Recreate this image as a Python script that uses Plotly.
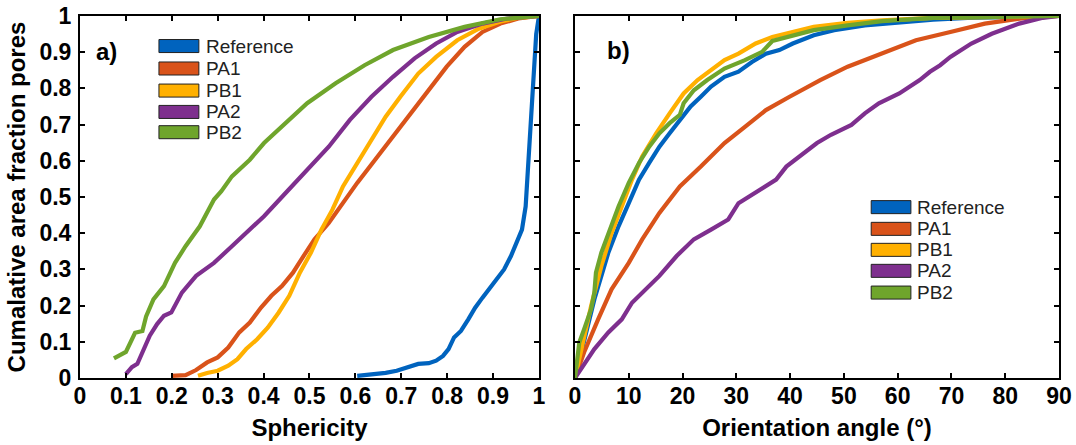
import plotly.graph_objects as go

series_names = ["Reference", "PA1", "PB1", "PA2", "PB2"]
series_colors = ["#0063BE", "#D9531A", "#FFB000", "#7E2F8E", "#6FA52C"]

# Panel a) Sphericity vs cumulative area fraction
a_ref_x = [0.604, 0.635, 0.666, 0.69, 0.713, 0.737, 0.76, 0.776, 0.791, 0.803, 0.815, 0.83, 0.846, 0.861, 0.877, 0.893, 0.908, 0.924, 0.939, 0.951, 0.963, 0.971, 0.978, 0.986, 0.994, 1.0]
a_ref_y = [0.006, 0.009, 0.014, 0.02, 0.029, 0.039, 0.041, 0.048, 0.061, 0.08, 0.112, 0.13, 0.162, 0.194, 0.222, 0.25, 0.272, 0.3, 0.337, 0.373, 0.41, 0.474, 0.63, 0.814, 0.95, 1.0]
a_pa1_x = [0.199, 0.23, 0.253, 0.277, 0.3, 0.323, 0.347, 0.37, 0.394, 0.417, 0.44, 0.464, 0.487, 0.511, 0.542, 0.573, 0.604, 0.643, 0.682, 0.721, 0.76, 0.799, 0.838, 0.877, 0.916, 0.955, 1.0]
a_pa1_y = [0.006, 0.008, 0.022, 0.043, 0.057, 0.084, 0.126, 0.153, 0.194, 0.227, 0.254, 0.291, 0.337, 0.383, 0.428, 0.483, 0.539, 0.603, 0.667, 0.731, 0.795, 0.86, 0.915, 0.956, 0.979, 0.993, 1.0]
a_pb1_x = [0.257, 0.277, 0.3, 0.323, 0.343, 0.362, 0.386, 0.409, 0.433, 0.456, 0.479, 0.503, 0.526, 0.55, 0.573, 0.604, 0.635, 0.666, 0.698, 0.737, 0.776, 0.822, 0.869, 0.916, 0.955, 1.0]
a_pb1_y = [0.006, 0.014, 0.02, 0.034, 0.052, 0.08, 0.107, 0.139, 0.181, 0.227, 0.291, 0.346, 0.41, 0.465, 0.529, 0.594, 0.658, 0.722, 0.777, 0.841, 0.887, 0.933, 0.965, 0.985, 0.995, 1.0]
a_pa2_x = [0.1, 0.113, 0.125, 0.136, 0.152, 0.168, 0.183, 0.199, 0.222, 0.253, 0.292, 0.331, 0.37, 0.401, 0.448, 0.495, 0.542, 0.588, 0.635, 0.682, 0.729, 0.776, 0.822, 0.877, 0.931, 1.0]
a_pa2_y = [0.011, 0.03, 0.039, 0.07, 0.117, 0.149, 0.172, 0.181, 0.236, 0.282, 0.318, 0.364, 0.41, 0.447, 0.511, 0.575, 0.639, 0.713, 0.777, 0.832, 0.883, 0.924, 0.956, 0.979, 0.993, 1.0]
a_pb2_x = [0.074, 0.1, 0.12, 0.136, 0.144, 0.16, 0.183, 0.207, 0.23, 0.261, 0.292, 0.308, 0.331, 0.37, 0.401, 0.448, 0.495, 0.557, 0.62, 0.682, 0.76, 0.838, 0.916, 1.0]
a_pb2_y = [0.054, 0.072, 0.125, 0.13, 0.17, 0.217, 0.254, 0.318, 0.364, 0.419, 0.493, 0.516, 0.557, 0.603, 0.649, 0.704, 0.759, 0.814, 0.864, 0.906, 0.942, 0.97, 0.991, 1.0]

# Panel b) Orientation angle vs cumulative area fraction
b_ref_x = [0, 1.7, 3.6, 6.2, 8.1, 10, 11.9, 13.8, 15.7, 17.6, 19.5, 21.5, 23.4, 25.3, 27.8, 30.4, 32.9, 35.5, 38, 40.5, 44.4, 48.2, 53.9, 60.3, 66.6, 73, 82.6, 90]
b_ref_y = [0, 0.098, 0.217, 0.346, 0.419, 0.483, 0.548, 0.594, 0.639, 0.676, 0.713, 0.75, 0.777, 0.805, 0.832, 0.846, 0.873, 0.896, 0.906, 0.924, 0.947, 0.961, 0.974, 0.983, 0.99, 0.995, 0.999, 1.0]
b_pa1_x = [0, 1.7, 4.3, 6.8, 10, 12.5, 15.7, 19.5, 23.4, 27.8, 31.6, 35.5, 39.9, 45.6, 50.7, 57.1, 63.4, 69.8, 76.2, 83.8, 90]
b_pa1_y = [0, 0.071, 0.162, 0.245, 0.318, 0.383, 0.456, 0.529, 0.584, 0.649, 0.694, 0.74, 0.777, 0.823, 0.86, 0.896, 0.933, 0.956, 0.979, 0.995, 1.0]
b_pb1_x = [0, 1.4, 3, 4.9, 6.8, 8.7, 10.6, 12.5, 15.1, 17.6, 20.2, 22.8, 25.3, 27.8, 30.4, 33.6, 36.7, 40.5, 44.4, 50.7, 57.1, 66.6, 79.4, 90]
b_pb1_y = [0, 0.098, 0.199, 0.309, 0.4, 0.474, 0.548, 0.612, 0.676, 0.731, 0.786, 0.823, 0.85, 0.878, 0.896, 0.924, 0.942, 0.956, 0.97, 0.981, 0.988, 0.995, 0.999, 1.0]
b_pa2_x = [0, 2.4, 3.6, 6.2, 8.7, 10.6, 12.5, 15.7, 18.9, 22.1, 25.3, 28.5, 30.4, 34.2, 37.4, 39.3, 42.5, 45, 47.6, 51.4, 53.9, 56.5, 60.3, 62.2, 64.1, 66, 67.9, 69.8, 73.7, 77.5, 82.6, 87, 90]
b_pa2_y = [0, 0.052, 0.08, 0.126, 0.162, 0.208, 0.236, 0.282, 0.337, 0.383, 0.41, 0.438, 0.483, 0.52, 0.548, 0.584, 0.621, 0.649, 0.672, 0.699, 0.731, 0.759, 0.786, 0.805, 0.823, 0.846, 0.864, 0.887, 0.924, 0.951, 0.979, 0.995, 1.0]
b_pb2_x = [0, 0.8, 1.7, 3, 3.6, 3.9, 4.9, 6.2, 8.1, 10, 11.9, 13.8, 15.7, 17.6, 19.5, 20.2, 22.1, 24.6, 27.8, 31.6, 34.8, 36.7, 40.5, 44.4, 50.7, 57.1, 66.6, 79.4, 90]
b_pb2_y = [0, 0.098, 0.135, 0.19, 0.236, 0.291, 0.346, 0.4, 0.474, 0.539, 0.594, 0.639, 0.676, 0.704, 0.727, 0.759, 0.795, 0.823, 0.855, 0.878, 0.901, 0.931, 0.947, 0.961, 0.974, 0.986, 0.995, 0.999, 1.0]

a_xticks = [0, 0.1, 0.2, 0.3, 0.4, 0.5, 0.6, 0.7, 0.8, 0.9, 1]
a_xticklabels = ["0", "0.1", "0.2", "0.3", "0.4", "0.5", "0.6", "0.7", "0.8", "0.9", "1"]
b_xticks = [0, 10, 20, 30, 40, 50, 60, 70, 80, 90]
yticks = [0, 0.1, 0.2, 0.3, 0.4, 0.5, 0.6, 0.7, 0.8, 0.9, 1]
yticklabels = ["0", "0.1", "0.2", "0.3", "0.4", "0.5", "0.6", "0.7", "0.8", "0.9", "1"]

FONT = "Arial, Liberation Sans, sans-serif"
LW = 4.2
TICKFONT = dict(family=FONT, size=23, color="black", weight="bold")
TITLEFONT = dict(family=FONT, size=24, color="black", weight="bold")

a_data = [(a_ref_x, a_ref_y), (a_pa1_x, a_pa1_y), (a_pb1_x, a_pb1_y), (a_pa2_x, a_pa2_y), (a_pb2_x, a_pb2_y)]
b_data = [(b_ref_x, b_ref_y), (b_pa1_x, b_pa1_y), (b_pb1_x, b_pb1_y), (b_pa2_x, b_pa2_y), (b_pb2_x, b_pb2_y)]

fig = go.Figure()
for (xs, ys), name, col in zip(a_data, series_names, series_colors):
    fig.add_trace(go.Scatter(x=xs, y=ys, mode="lines", name=name, line=dict(color=col, width=LW),
                             xaxis="x", yaxis="y", showlegend=False))
for (xs, ys), name, col in zip(b_data, series_names, series_colors):
    fig.add_trace(go.Scatter(x=xs, y=ys, mode="lines", name=name, line=dict(color=col, width=LW),
                             xaxis="x2", yaxis="y2", showlegend=False))

axis_common = dict(showline=True, linecolor="black", linewidth=2, mirror="ticks", ticks="inside",
                   ticklen=5, tickwidth=2, tickcolor="black", showgrid=False, zeroline=False,
                   automargin=False, tickfont=TICKFONT)

fig.update_layout(
    width=1076, height=445,
    margin=dict(l=80, r=17, t=16, b=67),
    paper_bgcolor="white", plot_bgcolor="white",
    xaxis=dict(domain=[0, 0.4688], range=[0, 1], tickvals=a_xticks, ticktext=a_xticklabels,
               ticklabelstandoff=-4,
               title=dict(text="Sphericity", font=TITLEFONT, standoff=12),
               **axis_common),
    yaxis=dict(domain=[0, 1], range=[0, 1], tickvals=yticks, ticktext=yticklabels, anchor="x",
               ticklabelstandoff=2,
               title=dict(text="Cumalative area fraction pores", font=TITLEFONT, standoff=7),
               **axis_common),
    xaxis2=dict(domain=[0.5056, 1], range=[0, 90], tickvals=b_xticks, anchor="y2",
                ticklabelstandoff=-4,
                title=dict(text="Orientation angle (°)", font=TITLEFONT, standoff=12),
                **axis_common),
    yaxis2=dict(domain=[0, 1], range=[0, 1], tickvals=yticks, anchor="x2", showticklabels=False,
                **axis_common),
)

annotations = [
    dict(text="a)", xref="x domain", yref="y domain", x=0.03, y=0.903, xanchor="left", yanchor="middle",
         showarrow=False, font=TITLEFONT),
    dict(text="b)", xref="x2 domain", yref="y2 domain", x=0.063, y=0.906, xanchor="left", yanchor="middle",
         showarrow=False, font=TITLEFONT),
]
shapes = []

legend_a = dict(xr="x domain", yr="y domain", x0=0.172, x1=0.259, xt=0.27, ys=[0.917, 0.855, 0.794, 0.735, 0.679])
legend_b = dict(xr="x2 domain", yr="y2 domain", x0=0.612, x1=0.694, xt=0.703, ys=[0.472, 0.412, 0.354, 0.296, 0.236])
for lg in (legend_a, legend_b):
    for yc, name, col in zip(lg["ys"], series_names, series_colors):
        shapes.append(dict(type="rect", xref=lg["xr"], yref=lg["yr"], x0=lg["x0"], x1=lg["x1"],
                           y0=yc - 0.018, y1=yc + 0.018, fillcolor=col,
                           line=dict(color="#222222", width=1)))
        annotations.append(dict(text=name, xref=lg["xr"], yref=lg["yr"], x=lg["xt"], y=yc,
                                xanchor="left", yanchor="middle", showarrow=False,
                                font=dict(family=FONT, size=19, color="#222222")))

fig.update_layout(annotations=annotations, shapes=shapes)
fig.write_html("out.html", config={"displayModeBar": False},
               post_script="document.body.style.margin='0px';document.body.style.overflow='hidden';")
